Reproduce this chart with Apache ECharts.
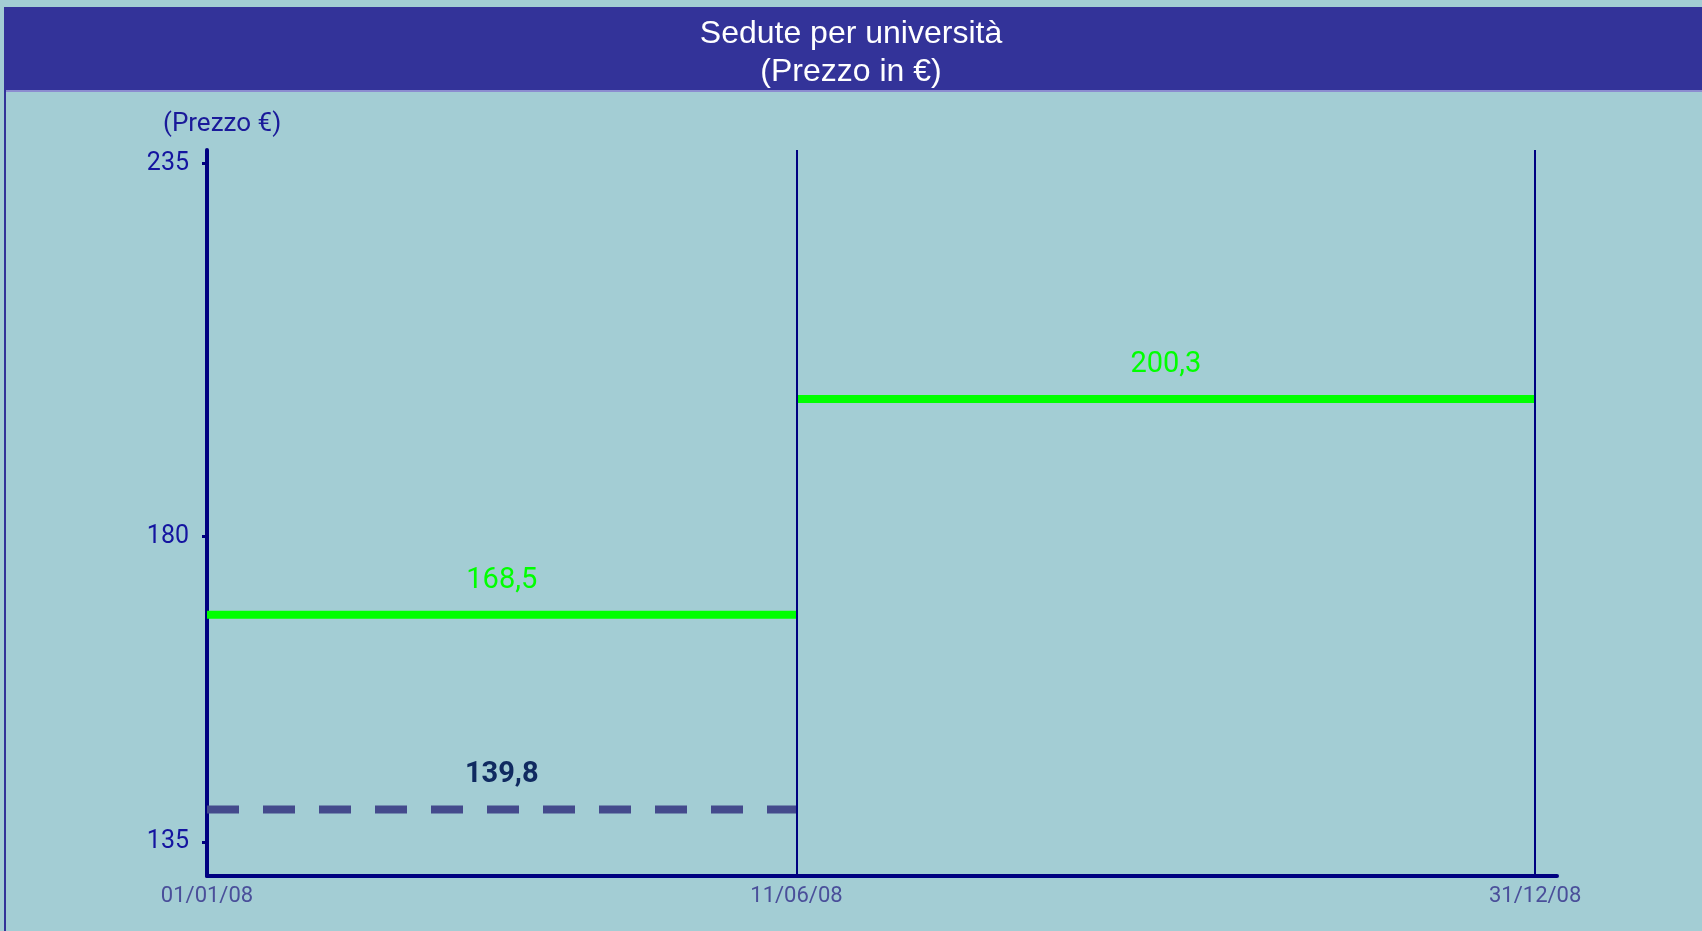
<!DOCTYPE html>
<html>
<head>
<meta charset="utf-8">
<script src="https://cdn.jsdelivr.net/npm/echarts@6/dist/echarts.min.js"></script>
<style>
  html, body { margin: 0; padding: 0; background: #a3cdd4; }
  #main { width: 1702px; height: 931px; }
</style>
</head>
<body>
<div id="main"></div>
<script>
// dati
var dateTicks = ['2008-01-01', '2008-06-11', '2008-12-31'];
var yTicks = [135, 180, 235];
var prezzoPrimo = [['2008-01-01', 168.5], ['2008-06-11', 168.5]];
var prezzoSecondo = [['2008-06-11', 200.3], ['2008-12-31', 200.3]];
var prezzoRiferimento = [['2008-01-01', 139.8], ['2008-06-11', 139.8]];
var separatori = ['2008-06-11', '2008-12-31'];

var navy = '#000080';

function ts(s) {
    var p = s.split('-');
    return Date.UTC(+p[0], +p[1] - 1, +p[2]);
}
function fmtDate(v) {
    var d = new Date(v);
    var dd = ('0' + d.getUTCDate()).slice(-2);
    var mm = ('0' + (d.getUTCMonth() + 1)).slice(-2);
    var yy = ('' + d.getUTCFullYear()).slice(-2);
    return dd + '/' + mm + '/' + yy;
}
function toPts(arr) {
    return arr.map(function (r) { return [ts(r[0]), r[1]]; });
}
function fmtNum(v) {
    return String(v).replace('.', ',');
}

// etichetta al centro del segmento
function labelMark(arr, color, weight) {
    var pts = toPts(arr);
    return {
        silent: true,
        symbol: 'none',
        lineStyle: { color: 'transparent', width: 0 },
        label: {
            show: true,
            position: 'middle',
            distance: 20,
            formatter: function () { return fmtNum(arr[0][1]); },
            color: color,
            fontSize: 29,
            fontWeight: weight,
            fontFamily: 'Roboto'
        },
        data: [[{ coord: pts[0] }, { coord: pts[1] }]]
    };
}

var chart = echarts.init(document.getElementById('main'));

chart.setOption({
    backgroundColor: '#a3cdd4',
    animation: false,
    title: {
        text: 'Sedute per università\n(Prezzo in €)',
        left: 'center',
        top: 10,
        padding: [5, 5, 5, 23],
        textStyle: {
            color: '#ffffff',
            fontSize: 32,
            fontWeight: 'normal',
            fontFamily: 'Liberation Sans',
            lineHeight: 38
        }
    },
    graphic: [
        { type: 'rect', z: -1, shape: { x: 6, y: 7, width: 1696, height: 83 }, style: { fill: '#333399' } },
        { type: 'rect', z: -1, shape: { x: 6, y: 90, width: 1696, height: 2 }, style: { fill: '#8c8cd0' } },
        { type: 'rect', z: -1, shape: { x: 4, y: 7, width: 2, height: 924 }, style: { fill: '#333399' } },
        {
            type: 'text', left: 163, top: 111,
            style: { text: '(Prezzo €)', fill: '#1a1a9a', fontSize: 26, fontFamily: 'Roboto' }
        }
    ],
    grid: { left: 207, right: 145, top: 150, bottom: 55 },
    xAxis: {
        type: 'value',
        min: ts('2008-01-01'),
        max: ts('2009-01-06'),
        axisLine: { lineStyle: { color: navy, width: 4 } },
        axisTick: { show: false },
        splitLine: { show: false },
        axisLabel: {
            customValues: dateTicks.map(ts),
            formatter: function (v) { return fmtDate(v); },
            color: '#4a4f9a',
            fontSize: 22,
            fontFamily: 'Roboto',
            margin: 9
        }
    },
    yAxis: {
        type: 'value',
        min: 130,
        max: 237,
        axisLine: { show: true, lineStyle: { color: navy, width: 4 } },
        axisTick: { show: true, customValues: yTicks, length: 5, lineStyle: { color: navy, width: 3 } },
        splitLine: { show: false },
        axisLabel: {
            customValues: yTicks,
            color: '#1414a0',
            fontSize: 25,
            fontFamily: 'Roboto',
            margin: 18
        }
    },
    series: [
        {
            type: 'line',
            data: toPts(prezzoPrimo),
            symbol: 'none',
            lineStyle: { color: '#00ff00', width: 8 },
            markLine: labelMark(prezzoPrimo, '#00ff00', 'normal')
        },
        {
            type: 'line',
            data: toPts(prezzoSecondo),
            symbol: 'none',
            lineStyle: { color: '#00ff00', width: 8 },
            markLine: labelMark(prezzoSecondo, '#00ff00', 'normal')
        },
        {
            type: 'line',
            data: toPts(prezzoRiferimento),
            symbol: 'none',
            lineStyle: { color: '#444a8c', width: 8, type: [32, 24] },
            markLine: labelMark(prezzoRiferimento, '#102a60', 'bold')
        },
        {
            type: 'line',
            data: [],
            markLine: {
                silent: true,
                symbol: 'none',
                label: { show: false },
                lineStyle: { color: navy, width: 2, type: 'solid' },
                data: separatori.map(function (d) { return { xAxis: ts(d) }; })
            }
        }
    ]
});
</script>
</body>
</html>
